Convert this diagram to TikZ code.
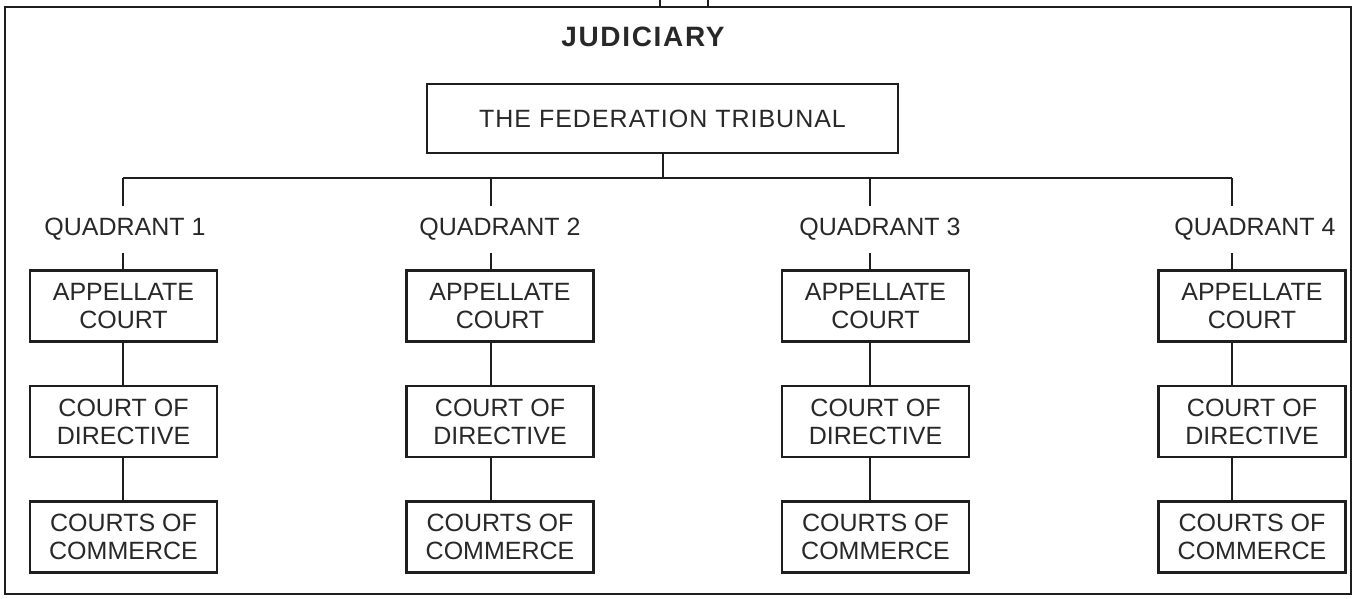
\documentclass[tikz,border=0pt]{standalone}
\usepackage{fontspec}
\setmainfont{Liberation Sans}
\definecolor{ink}{RGB}{40,40,40}
\definecolor{ln}{RGB}{30,30,30}
\begin{document}
\begin{tikzpicture}[x=1pt,y=-1pt,
  qlab/.style={text=ink, font=\fontsize{25}{28}\selectfont, inner xsep=0pt, inner ysep=12pt},
  court/.style={draw=ln, line width=2.2pt, minimum width=187pt, minimum height=71pt,
     inner sep=0pt, align=center, text=ink, font=\fontsize{25}{28}\selectfont},
  fedbox/.style={draw=ln, line width=2.2pt, minimum width=471pt, minimum height=69pt,
     inner sep=0pt, text=ink, font=\addfontfeatures{LetterSpace=4}\fontsize{25}{28}\selectfont},
  title/.style={text=ink, inner sep=0pt, font=\addfontfeatures{LetterSpace=6}\bfseries\fontsize{28}{30}\selectfont},
  framebox/.style={draw=ln, line width=2pt, minimum width=1346pt, minimum height=587pt, inner sep=0pt},
  conn/.style={draw=ln, line width=1.8pt}]
\useasboundingbox (0,0) rectangle (1356,598);
\node[framebox] (frame) at (678,300.5) {};
\coordinate (t1) at (660,0);
\coordinate (t2) at (708,0);
\draw[conn] (t1) -- (t1 |- frame.north);
\draw[conn] (t2) -- (t2 |- frame.north);
\node[title] (jud) at (643,37) {JUDICIARY};
\node[fedbox] (fed) at (662.5,118.5) {THE FEDERATION TRIBUNAL};
\coordinate (busc) at (663,178);
\coordinate (bl) at (123,178);
\coordinate (br) at (1232,178);
\draw[conn] (fed.south -| busc) -- (busc);
\draw[conn] (bl) -- (br);
\foreach \i/\s/\lx/\bx in {1/123/125/123.5, 2/491/500/500, 3/870/880/875.5, 4/1232/1255/1252} {
  \coordinate (b\i) at (\s,178);
  \node[qlab] (q\i) at (\lx,229.6) {QUADRANT \i};
  \node[court] (a\i) at (\bx,306) {APPELLATE\\COURT};
  \node[court] (d\i) at (\bx,421.5) {COURT OF\\DIRECTIVE};
  \node[court] (c\i) at (\bx,537) {COURTS OF\\COMMERCE};
  \draw[conn] (b\i) -- (q\i.north -| b\i);
  \draw[conn] (q\i.south -| b\i) -- (a\i.north -| b\i);
  \draw[conn] (a\i.south -| b\i) -- (d\i.north -| b\i);
  \draw[conn] (d\i.south -| b\i) -- (c\i.north -| b\i);
}
\end{tikzpicture}
\end{document}
